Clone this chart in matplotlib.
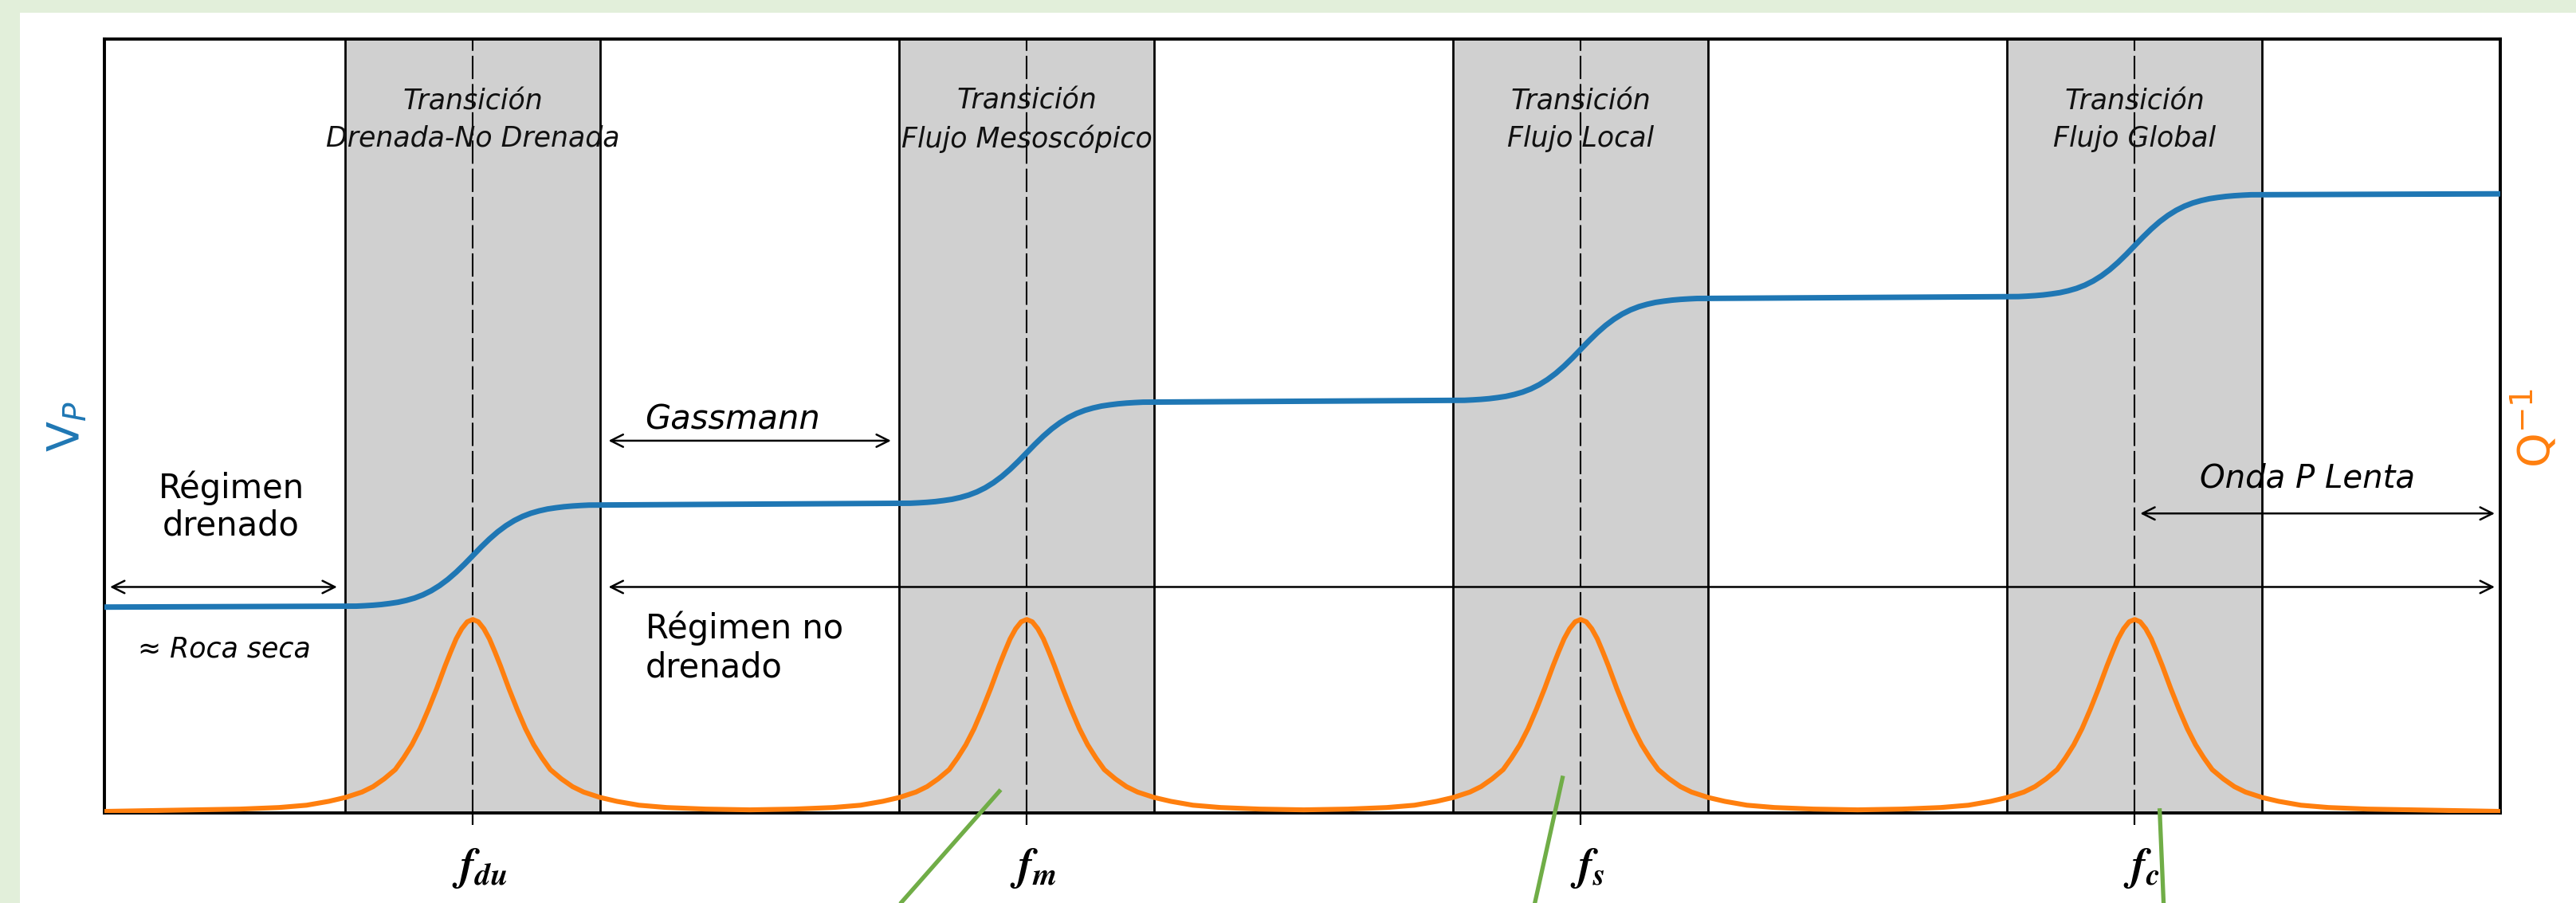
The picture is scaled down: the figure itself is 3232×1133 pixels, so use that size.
import matplotlib.pyplot as plt
from matplotlib.patches import Rectangle

# values (x = log frequency, y = fraction of the axis height)
centers = [1, 2, 3, 4]
freq_labels = ['du', 'm', 's', 'c']
band_titles = ['Transición\nDrenada-No Drenada', 'Transición\nFlujo Mesoscópico',
               'Transición\nFlujo Local', 'Transición\nFlujo Global']

# Vp plateaus and the shape of one step (fraction of the step done at dx)
vp_levels = [0.266, 0.399, 0.532, 0.666, 0.800]
step_dx = [-0.21, -0.195, -0.18, -0.165, -0.15, -0.135, -0.12, -0.105, -0.09, -0.075, -0.06, -0.045,
           -0.03, -0.015, 0.0, 0.015, 0.03, 0.045, 0.06, 0.075, 0.09, 0.105, 0.12, 0.135, 0.15,
           0.165, 0.18, 0.195, 0.21]
step_frac = [0.009, 0.013, 0.018, 0.025, 0.035, 0.047, 0.065, 0.088, 0.119, 0.159, 0.209, 0.269,
             0.339, 0.417, 0.5, 0.583, 0.661, 0.731, 0.791, 0.841, 0.881, 0.912, 0.935, 0.953, 0.965,
             0.975, 0.982, 0.987, 0.991]

# Q^-1 shape of one peak
peak_dx = [-0.50, -0.42, -0.35, -0.30, -0.26, -0.23, -0.20, -0.18, -0.16, -0.14, -0.125, -0.11,
           -0.095, -0.08, -0.065, -0.05, -0.04, -0.03, -0.02, -0.01, 0.0,
           0.01, 0.02, 0.03, 0.04, 0.05, 0.065, 0.08, 0.095, 0.11, 0.125, 0.14, 0.16, 0.18, 0.20,
           0.23, 0.26, 0.30, 0.35, 0.42, 0.50]
peak_q = [0.004, 0.005, 0.007, 0.010, 0.015, 0.020, 0.027, 0.034, 0.044, 0.056, 0.071, 0.088,
          0.109, 0.134, 0.161, 0.190, 0.208, 0.225, 0.238, 0.247, 0.250,
          0.247, 0.238, 0.225, 0.208, 0.190, 0.161, 0.134, 0.109, 0.088, 0.071, 0.056, 0.044, 0.034,
          0.027, 0.020, 0.015, 0.010, 0.007, 0.005, 0.004]
q_edge = 0.002

x_min, x_max = 0.335, 4.66
band_half = 0.23

# build the two curves
vp_x = [x_min]
vp_y = [vp_levels[0]]
for i, c in enumerate(centers):
    for dx, fr in zip(step_dx, step_frac):
        vp_x.append(c + dx)
        vp_y.append(vp_levels[i] + fr * (vp_levels[i + 1] - vp_levels[i]))
vp_x.append(x_max)
vp_y.append(vp_levels[-1])

q_x = [x_min]
q_y = [q_edge]
for c in centers:
    q_x += [c + dx for dx in peak_dx]
    q_y += peak_q
q_x.append(x_max)
q_y.append(q_edge)

fig = plt.figure(figsize=(32.32, 11.33), dpi=100)
fig.patch.set_facecolor('#e2efda')
fig.patches.append(Rectangle((25 / 3232, 0), 1, 1 - 16 / 1133, transform=fig.transFigure,
                             facecolor='white', edgecolor='none', zorder=-10))

ax = fig.add_axes([131 / 3232, 113 / 1133, 3006 / 3232, 971 / 1133])
ax.set_xlim(x_min, x_max)
ax.set_ylim(0, 1)
tr = ax.get_xaxis_transform()

# grey transition bands
for c in centers:
    ax.axvspan(c - band_half, c + band_half, color='#d0d0d0', lw=0, zorder=0)
    ax.axvline(c - band_half, color='black', lw=2, zorder=1)
    ax.axvline(c + band_half, color='black', lw=2, zorder=1)
    ax.axvline(c, color='black', lw=1.5, ls=(0, (14, 3)), zorder=1)

ax.plot(vp_x, vp_y, color='#1f77b4', lw=5, zorder=3, solid_capstyle='butt', solid_joinstyle='round')
ax.plot(q_x, q_y, color='#ff7f0e', lw=4.4, zorder=3, solid_capstyle='butt', solid_joinstyle='round')

for sp in ax.spines.values():
    sp.set_linewidth(2.8)
ax.set_xticks(centers)
ax.set_yticks([])
ax.tick_params(axis='x', length=11, width=1.6, direction='out', labelbottom=False)

# frequency labels
for c, lab in zip(centers, freq_labels):
    ax.text(c + 0.012, -0.072, r'$\boldsymbol{f}_{\boldsymbol{' + lab + '}}$', transform=tr,
            ha='center', va='center', fontsize=40, math_fontfamily='stix')

# band titles
for c, t in zip(centers, band_titles):
    ax.text(c, 0.8955, t, transform=tr, ha='center', va='center', fontsize=25, style='italic',
            linespacing=1.45, color='#111111')

# double arrows
arrows = [(0.345, 0.755, 0.292), (1.245, 1.755, 0.481), (1.245, 4.650, 0.292), (4.010, 4.650, 0.387)]
for x1, x2, y in arrows:
    ax.annotate('', xy=(x2, y), xytext=(x1, y), xycoords=tr, textcoords=tr,
                arrowprops=dict(arrowstyle='<->', lw=1.8, color='black', mutation_scale=28,
                                shrinkA=0, shrinkB=0), zorder=4)

ax.text(0.564, 0.396, 'Régimen\ndrenado', transform=tr, ha='center', va='center', fontsize=30,
        linespacing=1.15)
ax.text(0.551, 0.212, '≈ Roca seca', transform=tr, ha='center', va='center', fontsize=25, style='italic')
ax.text(1.469, 0.508, 'Gassmann', transform=tr, ha='center', va='center', fontsize=30, style='italic')
ax.text(1.312, 0.214, 'Régimen no\ndrenado', transform=tr, ha='left', va='center', fontsize=30,
        linespacing=1.2)
ax.text(4.312, 0.4325, 'Onda P Lenta', transform=tr, ha='center', va='center', fontsize=29, style='italic')

# axis names
fig.text(84 / 3232, 1 - 535 / 1133, r'V$_P$', rotation=90, ha='center', va='center', fontsize=40,
         color='#1f77b4')
fig.text(3180 / 3232, 1 - 537 / 1133, r'Q$^{-1}$', rotation=90, ha='center', va='center', fontsize=40,
         color='#ff7f0e')

# green pointer lines running off the bottom
pointer_lines = [((1.953, 0.030), (1.756, -0.13)), ((2.968, 0.048), (2.913, -0.13)),
                 ((4.045, 0.006), (4.053, -0.13))]
for (xa, ya), (xb, yb) in pointer_lines:
    ax.plot([xa, xb], [ya, yb], transform=tr, color='#70ad47', lw=3.8, clip_on=False, zorder=5,
            solid_capstyle='butt')

fig.savefig('out.png', dpi=100)
